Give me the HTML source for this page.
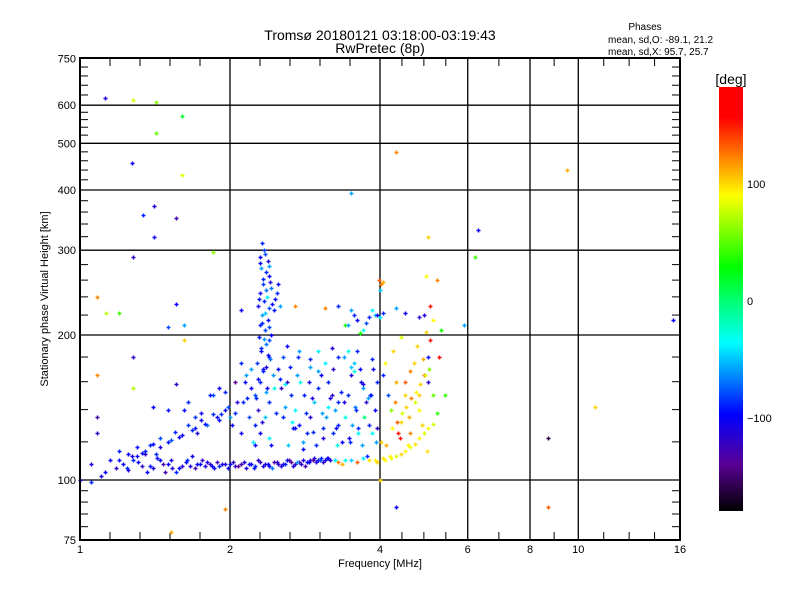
<!DOCTYPE html>
<html><head><meta charset="utf-8"><style>
body{margin:0;background:#fff}
svg{display:block;font-family:"Liberation Sans",sans-serif}
</style></head><body>
<svg id="chart" width="800" height="600" viewBox="0 0 800 600" xmlns="http://www.w3.org/2000/svg">
<defs><linearGradient id="cbar" x1="0" y1="1" x2="0" y2="0">
<stop offset="0" stop-color="#000"/><stop offset="0.111" stop-color="#5a0096"/><stop offset="0.228" stop-color="#0000ff"/><stop offset="0.397" stop-color="#00ffff"/><stop offset="0.575" stop-color="#00ff00"/><stop offset="0.744" stop-color="#ffff00"/><stop offset="0.928" stop-color="#ff0000"/><stop offset="1" stop-color="#ff0000"/>
</linearGradient></defs>
<rect width="800" height="600" fill="#fff"/>
<text x="380" y="40" font-size="14" text-anchor="middle">Tromsø 20180121 03:18:00-03:19:43</text>
<text x="380" y="53" font-size="14" text-anchor="middle">RwPretec (8p)</text>
<text x="645" y="30" font-size="10" text-anchor="middle">Phases</text>
<text x="608" y="43" font-size="10">mean, sd,O: -89.1, 21.2</text>
<text x="608" y="55" font-size="10">mean, sd,X:  95.7, 25.7</text>
<g id="grid"></g>
<g id="pts"></g>
<rect x="80" y="58" width="600" height="482" fill="none" stroke="#000" stroke-width="2"/>
<text x="380" y="567" font-size="11" text-anchor="middle">Frequency [MHz]</text>
<text transform="translate(48,299) rotate(-90)" font-size="11" text-anchor="middle">Stationary phase Virtual Height [km]</text>
<rect x="719" y="87" width="24" height="424" fill="url(#cbar)"/>
<text x="731" y="84" font-size="14" text-anchor="middle">[deg]</text>
<text x="747" y="188" font-size="11">100</text>
<text x="747" y="305" font-size="11">0</text>
<text x="747" y="422" font-size="11">−100</text>
</svg>
<script>
const xTicks=[1,2,4,6,8,10,16];
const xGrid=[2,4,6,8,10];
const yTicks=[75,100,200,300,400,500,600,750];
const freqs=[1.1,1.12,1.18,1.22,1.25,1.28,1.3,1.33,1.36,1.4,1.42,1.45,1.48,1.5,1.53,1.56,1.6,1.63,1.66,1.7,1.74,1.78,1.82,1.86,1.9,1.95,2.0,2.05,2.1,2.15,2.2,2.25,2.3,2.35,2.4,2.45,2.5,2.55,2.6,2.65,2.7,2.75,2.8,2.85,2.9,2.95,3.0,3.05,3.1,3.15,
3.25,3.3,3.35,3.4,3.5,3.6,3.7,3.8,3.9,3.95,4.05,4.1,4.2,4.3,4.4,4.5,4.6,4.7,4.8,4.9,5.0,5.1,
1.05,1.15,1.2,1.25,1.3,1.35,1.4,1.45,1.5,1.55,1.6,1.65,1.7,1.75,1.8,1.85,1.9,1.95,2.0,2.05,1.62,1.4,1.5,1.85,1.95,2.05,
2.32,2.34,2.3,2.38,2.31,2.36,2.4,2.33,2.42,2.3,2.37,2.34,2.28,2.4,2.45,2.32,2.38,2.3,2.35,2.42,2.29,2.36,2.31,2.4,2.27,2.33,2.44,2.3,2.37,2.25,2.5,2.48,2.52,
2.1,2.15,2.2,2.12,2.18,2.1,2.22,2.25,2.28,2.3,2.35,2.4,2.45,2.5,2.55,2.6,2.65,2.7,2.75,2.8,2.85,2.9,2.95,3.0,3.05,3.1,3.15,3.2,3.25,3.3,3.35,3.4,3.45,3.5,3.55,3.6,3.65,3.7,3.75,3.8,3.85,3.9,3.95,2.6,2.75,2.9,3.0,3.2,3.3,3.45,2.55,2.68,2.72,2.82,2.88,3.12,3.22,3.38,3.52,3.58,3.62,3.72,3.82,3.88,3.92,2.98,3.08,3.28,3.48,3.68,2.42,2.62,
3.3,3.5,3.6,3.7,3.8,3.9,3.95,4.0,4.05,4.3,4.5,4.9,4.8,3.4,3.1,2.7,3.98,4.02,4.05,4.0,
4.1,4.3,4.5,4.7,4.9,5.0,4.2,4.4,4.6,4.8,5.1,5.2,4.15,4.05,4.25,4.6,5.0,4.75,4.4,4.95,5.1,5.05,5.2,4.95,5.25,4.85,4.55,4.35,5.05,5.4,
1.12,1.28,1.42,1.42,1.6,1.27,1.41,1.34,1.6,1.56,1.41,1.28,1.08,1.13,1.2,1.56,1.62,1.62,1.28,1.08,1.28,1.56,1.08,1.08,1.85,1.5,2.1,4.3,9.5,6.3,6.2,5.0,5.3,5.9,15.5,10.8,8.7,8.7,4.3,1.95,1.52,1.0,1.05,3.5,4.0,
1.2,1.24,1.27,1.31,1.35,1.38,1.43,1.47,1.52,1.58,1.64,1.68,1.72,1.76,1.8,1.84,1.88,1.93,1.98,2.03,2.08,2.13,2.18,2.23,2.28,2.33,2.38,2.43,2.48,2.53,2.58,2.63,2.68,2.73,2.78,2.83,2.88,2.93,2.98,3.03,3.08,3.13,3.18,
1.33,1.38,1.45,1.52,1.58,1.68,1.72,1.78,1.88,1.92,1.98,2.02,2.07,1.65,1.75,1.82,1.7,1.9,
2.35,2.3,2.39,2.33,2.41,2.36,2.29,2.43,2.35,2.32,2.39,2.46,2.34,2.31,2.38,2.41,2.36,2.33,2.28,2.4,
2.14,2.2,2.26,2.32,2.4,2.47,2.53,2.58,2.64,2.7,2.77,2.84,2.92,3.0,3.07,3.14,3.22,3.3,3.38,3.46,3.54,3.62,3.7,3.78,3.86,3.94,2.16,2.24,2.36,2.52,2.66,2.8,2.94,3.06,3.18,3.34,3.5,3.66,3.84,2.58,2.74,2.9,3.26,3.56,3.76,
4.02,4.12,4.22,4.32,4.42,4.52,4.62,4.72,4.82,4.92,5.02,4.18,4.38,4.58,4.78,4.98,4.28,4.48,4.68,4.88,3.45,3.55,3.65,3.75,3.85];
const heights=[102,104,106,108,105,110,112,107,104,106,113,110,104,108,106,104,107,109,107,106,108,107,108,106,107,108,108,107,108,106,108,107,109,108,107,109,108,108,110,109,108,109,110,109,110,111,110,111,110,111,
110,109,108,110,110,109,111,110,110,109,111,110,111,112,113,115,117,119,122,125,128,131,
108,110,115,113,117,115,119,122,120,126,124,130,128,133,130,137,133,140,135,138,140,142,140,150,152,160,
310,300,290,285,275,270,265,255,250,245,240,235,230,228,225,220,215,210,205,200,198,192,185,180,175,170,165,160,155,150,255,245,230,
175,165,155,145,135,125,120,130,140,125,135,145,155,170,180,160,150,140,130,120,125,135,145,155,165,175,160,150,140,130,120,135,150,165,175,185,170,155,145,130,125,140,160,190,185,178,185,188,180,185,135,128,165,150,160,135,125,145,130,140,125,135,150,170,120,118,122,118,120,118,118,118,
230,225,215,205,218,220,220,218,222,228,222,220,218,210,228,230,260,255,258,248,
175,160,150,145,165,180,140,132,125,140,150,138,150,165,185,168,160,190,198,203,215,230,260,265,180,130,118,125,195,150,
620,615,610,525,570,455,370,355,430,350,320,290,240,222,222,232,210,195,180,165,155,158,135,125,298,208,225,480,440,330,290,320,205,210,215,142,122,88,88,87,78,100,99,395,100,
110,106,112,109,113,107,111,108,110,106,110,112,108,110,109,107,109,108,106,109,107,109,108,106,110,107,108,106,109,107,108,110,107,109,108,107,109,110,109,110,109,111,110,
114,118,117,121,123,127,125,131,135,137,142,130,145,145,138,150,135,155,
295,282,278,262,258,248,238,232,222,212,208,238,196,188,182,178,172,168,162,195,
160,170,148,132,122,138,155,142,172,128,160,138,148,168,128,142,170,145,180,122,168,128,158,148,178,128,148,118,152,162,132,116,126,138,148,152,172,160,150,158,180,172,128,142,112,
120,118,128,132,138,142,148,152,158,165,170,112,122,135,150,115,145,160,175,178,210,220,202,212,225];
const phases=[-110,-100,-120,-100,-110,-90,-100,-120,-100,-110,-90,-100,-130,-100,-110,-90,-120,-100,-110,-130,-100,-110,-120,-100,-90,-110,-100,-120,-130,-110,-100,-90,-120,-110,-100,-130,-120,-110,-100,-140,-120,-130,-110,-100,-120,-110,-100,-90,-110,-120,
-40,120,110,-30,-50,130,-40,95,90,100,95,90,85,80,100,90,85,95,90,80,85,75,
-110,-100,-90,-100,-95,-90,-100,-80,-95,-90,-100,-85,-95,-100,-70,-90,-95,-100,-60,-90,-95,-100,-95,-80,-90,-140,
-90,-80,-100,-110,-60,-90,-100,-85,-70,-100,-40,-90,-100,-80,-95,-60,-100,-90,-80,-100,-95,-70,-100,-90,-85,-100,-60,-90,-100,-80,-100,-90,-60,
-90,-60,-100,-90,-80,-100,-40,-90,-120,-100,-50,-90,-30,-100,-80,-120,-90,-40,-100,-60,-90,-110,-50,-90,-100,-40,-90,-120,-60,-90,-100,-30,-90,-110,-50,-90,-100,-60,-120,-90,-40,-100,-90,-100,-60,-90,-40,-110,-90,-30,-90,-100,-60,-90,-100,-60,-90,-110,-60,-90,-40,0,-90,-100,-60,-90,-110,-30,-90,-60,-100,-50,
-90,-60,-100,-30,-90,-50,-100,-40,-90,-60,-100,-110,-120,30,120,120,130,120,110,-50,
90,110,100,80,130,-100,60,100,120,90,50,40,-80,-90,100,120,-120,100,80,100,90,150,120,90,160,100,90,150,150,40,
-110,80,60,50,20,-100,-110,-90,80,-130,-100,-120,120,70,40,-100,-60,100,-120,120,70,-120,-130,-120,60,-80,-100,120,110,-100,40,100,30,-60,-100,100,-160,130,-100,120,110,-100,-90,-60,100,
-100,-90,-110,-100,-120,-95,-100,-130,-110,-100,-90,-110,-100,-120,-110,-100,-130,-110,-100,-120,-140,-110,-100,-90,-120,-110,-100,-70,-120,-110,-90,-130,-110,-60,-120,-130,-100,-140,-110,-80,-120,-100,-110,
-100,-90,-110,-80,-100,-90,-110,-95,-100,-90,-80,-100,-110,-90,-100,-95,-85,-100,
-80,-100,-60,-90,-110,-70,-95,-100,-50,-90,-80,-100,-60,-90,-100,-70,-110,-90,-100,-80,
-100,-60,-90,-110,-40,-90,-120,-60,-90,-100,-30,-90,-110,-60,-90,-40,-120,-90,-60,-100,-30,-90,-110,-60,-90,-120,-90,-100,-60,-90,-40,-100,-90,-60,-110,-90,-50,-100,-90,-40,-90,-60,-100,-70,-90,
100,110,90,130,80,100,120,90,100,80,60,90,150,110,100,95,120,130,100,110,-60,-90,30,-80,-40];

const X0=80,PX=150,Y100=480,PY=145;
function xs(f){return X0+PX*Math.log2(f);}
function ys(h){return Y100-PY*Math.log2(h/100);}
const stops=[[-180,0,0,0],[-140,90,0,150],[-98,0,0,255],[-37,0,255,255],[27,0,255,0],[88,255,255,0],[154,255,0,0],[180,255,0,0]];
function col(v){v=Math.max(-180,Math.min(180,v));for(let i=0;i<stops.length-1;i++){const a=stops[i],b=stops[i+1];if(v<=b[0]){const t=(v-a[0])/(b[0]-a[0]);return `rgb(${Math.round(a[1]+t*(b[1]-a[1]))},${Math.round(a[2]+t*(b[2]-a[2]))},${Math.round(a[3]+t*(b[3]-a[3]))})`;}}return 'red';}
const NS='http://www.w3.org/2000/svg';
const grid=document.getElementById('grid'),pts=document.getElementById('pts');
function mk(tag,attrs,parent){const e=document.createElementNS(NS,tag);for(const k in attrs)e.setAttribute(k,attrs[k]);parent.appendChild(e);return e;}
xGrid.forEach(f=>{const x=xs(f);const l=mk('line',{x1:x,x2:x,y1:58,y2:540,stroke:'#000','stroke-width':1.3},grid);

});
yTicks.forEach((h,i)=>{const y=ys(h);if(i>0&&i<yTicks.length-1){const l=mk('line',{x1:80,x2:680,y1:y,y2:y,stroke:'#000','stroke-width':1.3},grid);

}
const t=mk('text',{x:76,y:y+4,'font-size':11,'text-anchor':'end'},grid);t.textContent=h;


if(i<yTicks.length-1){const h2=yTicks[i+1];for(let k=1;k<5;k++){const yy=ys(h+(h2-h)*k/5);mk('line',{x1:80,x2:88,y1:yy,y2:yy,stroke:'#000'},grid);mk('line',{x1:672,x2:680,y1:yy,y2:yy,stroke:'#000'},grid);}}});
xTicks.forEach((f,i)=>{const x=xs(f);const t=mk('text',{x:x,y:553,'font-size':11,'text-anchor':'middle'},grid);t.textContent=f;


if(i<xTicks.length-1){const f2=xTicks[i+1];const n=(f===1||f===2)?5:(f===4||f===10?4:2);const x2=xs(f2);for(let k=1;k<n;k++){const xx=x+(x2-x)*k/n;mk('line',{x1:xx,x2:xx,y1:58,y2:66,stroke:'#000'},grid);mk('line',{x1:xx,x2:xx,y1:532,y2:540,stroke:'#000'},grid);}}});
for(let i=0;i<freqs.length;i++){const x=Math.round(xs(freqs[i]))+0.5,y=Math.round(ys(heights[i]))+0.5;const c=col(phases[i]);
const p=mk('path',{d:`M${x-2} ${y}H${x+2}M${x} ${y-2}V${y+2}`,stroke:c,'stroke-width':1.4,fill:'none'},pts);

}
</script>
</body></html>
